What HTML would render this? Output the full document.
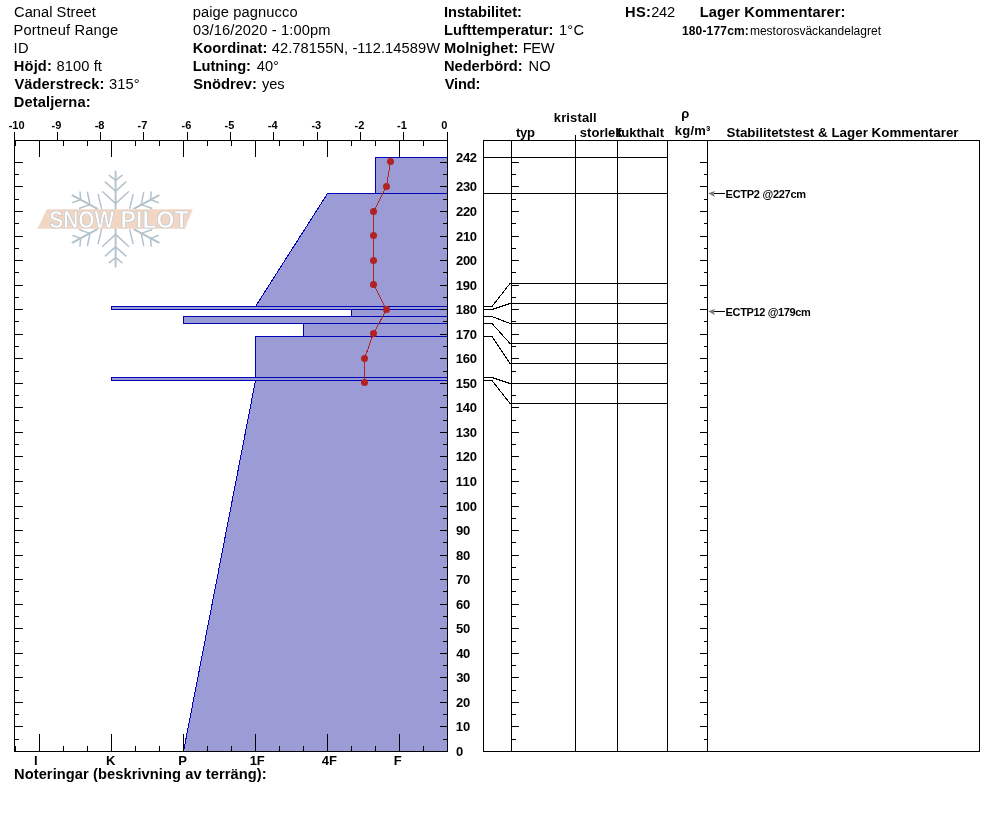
<!DOCTYPE html>
<html lang="sv"><head><meta charset="utf-8"><title>SnowPilot</title>
<style>html,body{margin:0;padding:0;background:#fff}svg{display:block}text{font-family:"Liberation Sans",Arial,sans-serif;fill:#000}.b{font-weight:bold}.l line,.l path,.l rect,.l polyline{shape-rendering:crispEdges}</style></head><body>
<svg width="994" height="840" viewBox="0 0 994 840">
<rect width="994" height="840" fill="#fff"/>
<g id="logo">
<path d="M115.6 171.4L115.6 209.0M115.6 266.6L115.6 229.0M72.5 195.4L97.0 208.6M158.7 195.4L134.2 208.6M72.5 242.6L97.0 229.4M158.7 242.6L134.2 229.4" stroke="#b3c2cc" stroke-width="1.9" fill="none" stroke-linecap="round"/>
<path d="M115.6 180.4L109.3 175.4M115.6 257.6L109.3 262.6M115.6 180.4L122.0 175.4M115.6 257.6L122.0 262.6M115.6 191.1L105.4 182.1M115.6 246.9L105.4 255.9M115.6 191.1L125.8 182.1M115.6 246.9L125.8 255.9M115.6 203.6L102.7 191.8M115.6 234.4L102.7 246.2M115.6 203.6L128.5 191.8M115.6 234.4L128.5 246.2M80.7 199.6L80.0 192.1M150.5 199.6L151.2 192.1M80.7 238.4L80.0 245.9M150.5 238.4L151.2 245.9M80.7 199.6L72.9 202.5M150.5 199.6L158.3 202.5M80.7 238.4L72.9 235.5M150.5 238.4L158.3 235.5M90.0 204.6L87.5 192.5M141.2 204.6L143.7 192.5M90.0 233.4L87.5 245.5M141.2 233.4L143.7 245.5M90.0 204.6L79.6 208.2M141.2 204.6L151.6 208.2M90.0 233.4L79.6 229.8M141.2 233.4L151.6 229.8M98.2 194.6L101.4 208.2M133.0 194.6L129.8 208.2M98.2 243.4L101.4 229.8M133.0 243.4L129.8 229.8" stroke="#b3c2cc" stroke-width="1.5" fill="none" stroke-linecap="round"/>
<polygon points="46.8,209.3 192.8,209.3 185,228.8 37.5,228.8" fill="#f1d7c3"/>
<text y="227.9" font-size="23" style="fill:#fff;stroke:#b9c4cc;stroke-width:0.6;font-weight:bold"><tspan x="49.3" textLength="65" lengthAdjust="spacingAndGlyphs">SNOW</tspan> <tspan x="120.6" textLength="68" lengthAdjust="spacingAndGlyphs">PILOT</tspan></text>
</g>
<g>
<polygon points="375.5,157.5 447.5,157.5 447.5,193.5 375.5,193.5" fill="#9b9bd5" stroke="#0000b4" stroke-width="1" shape-rendering="crispEdges"/>
<polygon points="327.5,193.5 447.5,193.5 447.5,306.5 255.5,306.5" fill="#9b9bd5" stroke="#0000b4" stroke-width="1" shape-rendering="crispEdges"/>
<polygon points="111.5,306.5 447.5,306.5 447.5,309.5 111.5,309.5" fill="#9b9bd5" stroke="#0000b4" stroke-width="1" shape-rendering="crispEdges"/>
<polygon points="351.5,309.5 447.5,309.5 447.5,316.5 351.5,316.5" fill="#9b9bd5" stroke="#0000b4" stroke-width="1" shape-rendering="crispEdges"/>
<polygon points="183.5,316.5 447.5,316.5 447.5,323.5 183.5,323.5" fill="#9b9bd5" stroke="#0000b4" stroke-width="1" shape-rendering="crispEdges"/>
<polygon points="303.5,323.5 447.5,323.5 447.5,336.5 303.5,336.5" fill="#9b9bd5" stroke="#0000b4" stroke-width="1" shape-rendering="crispEdges"/>
<polygon points="255.5,336.5 447.5,336.5 447.5,377.5 255.5,377.5" fill="#9b9bd5" stroke="#0000b4" stroke-width="1" shape-rendering="crispEdges"/>
<polygon points="111.5,377.5 447.5,377.5 447.5,380.5 111.5,380.5" fill="#9b9bd5" stroke="#0000b4" stroke-width="1" shape-rendering="crispEdges"/>
<polygon points="255.5,380.5 447.5,380.5 447.5,751.5 183.5,751.5" fill="#9b9bd5" stroke="#0000b4" stroke-width="1" shape-rendering="crispEdges"/>
</g>
<g class="l" stroke="#000" stroke-width="1" fill="none">
<line x1="14" y1="140.5" x2="448" y2="140.5"/>
<line x1="14" y1="751.5" x2="448" y2="751.5"/>
<line x1="14.5" y1="140" x2="14.5" y2="752"/>
<line x1="447.5" y1="132" x2="447.5" y2="752"/>
<line x1="14.5" y1="132" x2="14.5" y2="140"/>
<line x1="57.5" y1="132" x2="57.5" y2="140"/>
<line x1="100.5" y1="132" x2="100.5" y2="140"/>
<line x1="143.5" y1="132" x2="143.5" y2="140"/>
<line x1="187.5" y1="132" x2="187.5" y2="140"/>
<line x1="230.5" y1="132" x2="230.5" y2="140"/>
<line x1="273.5" y1="132" x2="273.5" y2="140"/>
<line x1="317.5" y1="132" x2="317.5" y2="140"/>
<line x1="360.5" y1="132" x2="360.5" y2="140"/>
<line x1="403.5" y1="132" x2="403.5" y2="140"/>
<line x1="39.5" y1="141" x2="39.5" y2="157"/>
<line x1="39.5" y1="734" x2="39.5" y2="751"/>
<line x1="63.5" y1="141" x2="63.5" y2="146"/>
<line x1="63.5" y1="746" x2="63.5" y2="751"/>
<line x1="87.5" y1="141" x2="87.5" y2="146"/>
<line x1="87.5" y1="746" x2="87.5" y2="751"/>
<line x1="111.5" y1="141" x2="111.5" y2="157"/>
<line x1="111.5" y1="734" x2="111.5" y2="751"/>
<line x1="135.5" y1="141" x2="135.5" y2="146"/>
<line x1="135.5" y1="746" x2="135.5" y2="751"/>
<line x1="159.5" y1="141" x2="159.5" y2="146"/>
<line x1="159.5" y1="746" x2="159.5" y2="751"/>
<line x1="183.5" y1="141" x2="183.5" y2="157"/>
<line x1="183.5" y1="734" x2="183.5" y2="751"/>
<line x1="207.5" y1="141" x2="207.5" y2="146"/>
<line x1="207.5" y1="746" x2="207.5" y2="751"/>
<line x1="231.5" y1="141" x2="231.5" y2="146"/>
<line x1="231.5" y1="746" x2="231.5" y2="751"/>
<line x1="255.5" y1="141" x2="255.5" y2="157"/>
<line x1="255.5" y1="734" x2="255.5" y2="751"/>
<line x1="279.5" y1="141" x2="279.5" y2="146"/>
<line x1="279.5" y1="746" x2="279.5" y2="751"/>
<line x1="303.5" y1="141" x2="303.5" y2="146"/>
<line x1="303.5" y1="746" x2="303.5" y2="751"/>
<line x1="327.5" y1="141" x2="327.5" y2="157"/>
<line x1="327.5" y1="734" x2="327.5" y2="751"/>
<line x1="351.5" y1="141" x2="351.5" y2="146"/>
<line x1="351.5" y1="746" x2="351.5" y2="751"/>
<line x1="375.5" y1="141" x2="375.5" y2="146"/>
<line x1="375.5" y1="746" x2="375.5" y2="751"/>
<line x1="399.5" y1="141" x2="399.5" y2="157"/>
<line x1="399.5" y1="734" x2="399.5" y2="751"/>
<line x1="423.5" y1="141" x2="423.5" y2="146"/>
<line x1="423.5" y1="746" x2="423.5" y2="751"/>
<line x1="15.5" y1="141" x2="15.5" y2="146"/>
<line x1="15.5" y1="746" x2="15.5" y2="751"/>
<line x1="15" y1="739.5" x2="19" y2="739.5"/>
<line x1="443" y1="739.5" x2="447" y2="739.5"/>
<line x1="15" y1="726.5" x2="23" y2="726.5"/>
<line x1="440" y1="726.5" x2="447" y2="726.5"/>
<line x1="15" y1="714.5" x2="19" y2="714.5"/>
<line x1="443" y1="714.5" x2="447" y2="714.5"/>
<line x1="15" y1="702.5" x2="23" y2="702.5"/>
<line x1="440" y1="702.5" x2="447" y2="702.5"/>
<line x1="15" y1="690.5" x2="19" y2="690.5"/>
<line x1="443" y1="690.5" x2="447" y2="690.5"/>
<line x1="15" y1="677.5" x2="23" y2="677.5"/>
<line x1="440" y1="677.5" x2="447" y2="677.5"/>
<line x1="15" y1="665.5" x2="19" y2="665.5"/>
<line x1="443" y1="665.5" x2="447" y2="665.5"/>
<line x1="15" y1="653.5" x2="23" y2="653.5"/>
<line x1="440" y1="653.5" x2="447" y2="653.5"/>
<line x1="15" y1="641.5" x2="19" y2="641.5"/>
<line x1="443" y1="641.5" x2="447" y2="641.5"/>
<line x1="15" y1="628.5" x2="23" y2="628.5"/>
<line x1="440" y1="628.5" x2="447" y2="628.5"/>
<line x1="15" y1="616.5" x2="19" y2="616.5"/>
<line x1="443" y1="616.5" x2="447" y2="616.5"/>
<line x1="15" y1="604.5" x2="23" y2="604.5"/>
<line x1="440" y1="604.5" x2="447" y2="604.5"/>
<line x1="15" y1="591.5" x2="19" y2="591.5"/>
<line x1="443" y1="591.5" x2="447" y2="591.5"/>
<line x1="15" y1="579.5" x2="23" y2="579.5"/>
<line x1="440" y1="579.5" x2="447" y2="579.5"/>
<line x1="15" y1="567.5" x2="19" y2="567.5"/>
<line x1="443" y1="567.5" x2="447" y2="567.5"/>
<line x1="15" y1="555.5" x2="23" y2="555.5"/>
<line x1="440" y1="555.5" x2="447" y2="555.5"/>
<line x1="15" y1="542.5" x2="19" y2="542.5"/>
<line x1="443" y1="542.5" x2="447" y2="542.5"/>
<line x1="15" y1="530.5" x2="23" y2="530.5"/>
<line x1="440" y1="530.5" x2="447" y2="530.5"/>
<line x1="15" y1="518.5" x2="19" y2="518.5"/>
<line x1="443" y1="518.5" x2="447" y2="518.5"/>
<line x1="15" y1="506.5" x2="23" y2="506.5"/>
<line x1="440" y1="506.5" x2="447" y2="506.5"/>
<line x1="15" y1="493.5" x2="19" y2="493.5"/>
<line x1="443" y1="493.5" x2="447" y2="493.5"/>
<line x1="15" y1="481.5" x2="23" y2="481.5"/>
<line x1="440" y1="481.5" x2="447" y2="481.5"/>
<line x1="15" y1="469.5" x2="19" y2="469.5"/>
<line x1="443" y1="469.5" x2="447" y2="469.5"/>
<line x1="15" y1="456.5" x2="23" y2="456.5"/>
<line x1="440" y1="456.5" x2="447" y2="456.5"/>
<line x1="15" y1="444.5" x2="19" y2="444.5"/>
<line x1="443" y1="444.5" x2="447" y2="444.5"/>
<line x1="15" y1="432.5" x2="23" y2="432.5"/>
<line x1="440" y1="432.5" x2="447" y2="432.5"/>
<line x1="15" y1="420.5" x2="19" y2="420.5"/>
<line x1="443" y1="420.5" x2="447" y2="420.5"/>
<line x1="15" y1="407.5" x2="23" y2="407.5"/>
<line x1="440" y1="407.5" x2="447" y2="407.5"/>
<line x1="15" y1="395.5" x2="19" y2="395.5"/>
<line x1="443" y1="395.5" x2="447" y2="395.5"/>
<line x1="15" y1="383.5" x2="23" y2="383.5"/>
<line x1="440" y1="383.5" x2="447" y2="383.5"/>
<line x1="15" y1="371.5" x2="19" y2="371.5"/>
<line x1="443" y1="371.5" x2="447" y2="371.5"/>
<line x1="15" y1="358.5" x2="23" y2="358.5"/>
<line x1="440" y1="358.5" x2="447" y2="358.5"/>
<line x1="15" y1="346.5" x2="19" y2="346.5"/>
<line x1="443" y1="346.5" x2="447" y2="346.5"/>
<line x1="15" y1="334.5" x2="23" y2="334.5"/>
<line x1="440" y1="334.5" x2="447" y2="334.5"/>
<line x1="15" y1="321.5" x2="19" y2="321.5"/>
<line x1="443" y1="321.5" x2="447" y2="321.5"/>
<line x1="15" y1="309.5" x2="23" y2="309.5"/>
<line x1="440" y1="309.5" x2="447" y2="309.5"/>
<line x1="15" y1="297.5" x2="19" y2="297.5"/>
<line x1="443" y1="297.5" x2="447" y2="297.5"/>
<line x1="15" y1="285.5" x2="23" y2="285.5"/>
<line x1="440" y1="285.5" x2="447" y2="285.5"/>
<line x1="15" y1="272.5" x2="19" y2="272.5"/>
<line x1="443" y1="272.5" x2="447" y2="272.5"/>
<line x1="15" y1="260.5" x2="23" y2="260.5"/>
<line x1="440" y1="260.5" x2="447" y2="260.5"/>
<line x1="15" y1="248.5" x2="19" y2="248.5"/>
<line x1="443" y1="248.5" x2="447" y2="248.5"/>
<line x1="15" y1="236.5" x2="23" y2="236.5"/>
<line x1="440" y1="236.5" x2="447" y2="236.5"/>
<line x1="15" y1="223.5" x2="19" y2="223.5"/>
<line x1="443" y1="223.5" x2="447" y2="223.5"/>
<line x1="15" y1="211.5" x2="23" y2="211.5"/>
<line x1="440" y1="211.5" x2="447" y2="211.5"/>
<line x1="15" y1="199.5" x2="19" y2="199.5"/>
<line x1="443" y1="199.5" x2="447" y2="199.5"/>
<line x1="15" y1="186.5" x2="23" y2="186.5"/>
<line x1="440" y1="186.5" x2="447" y2="186.5"/>
<line x1="15" y1="174.5" x2="19" y2="174.5"/>
<line x1="443" y1="174.5" x2="447" y2="174.5"/>
<line x1="15" y1="162.5" x2="23" y2="162.5"/>
<line x1="440" y1="162.5" x2="447" y2="162.5"/>
</g>
<polyline points="390.5,161.5 386.5,186.5 373.5,211.5 373.5,235.5 373.5,260.5 373.5,284.5 386.5,309.5 373.5,333.5 364.5,358.5 364.5,382.5" fill="none" stroke="#b22222" stroke-width="1" shape-rendering="crispEdges"/>
<circle cx="390.5" cy="161.5" r="3.5" fill="#b22222"/>
<circle cx="386.5" cy="186.5" r="3.5" fill="#b22222"/>
<circle cx="373.5" cy="211.5" r="3.5" fill="#b22222"/>
<circle cx="373.5" cy="235.5" r="3.5" fill="#b22222"/>
<circle cx="373.5" cy="260.5" r="3.5" fill="#b22222"/>
<circle cx="373.5" cy="284.5" r="3.5" fill="#b22222"/>
<circle cx="386.5" cy="309.5" r="3.5" fill="#b22222"/>
<circle cx="373.5" cy="333.5" r="3.5" fill="#b22222"/>
<circle cx="364.5" cy="358.5" r="3.5" fill="#b22222"/>
<circle cx="364.5" cy="382.5" r="3.5" fill="#b22222"/>
<g class="l" stroke="#000" stroke-width="1" fill="none">
<line x1="483" y1="140.5" x2="980" y2="140.5"/>
<line x1="483" y1="751.5" x2="980" y2="751.5"/>
<line x1="483.5" y1="140" x2="483.5" y2="752"/>
<line x1="979.5" y1="140" x2="979.5" y2="752"/>
<line x1="511.5" y1="140" x2="511.5" y2="751"/>
<line x1="575.5" y1="135" x2="575.5" y2="751"/>
<line x1="617.5" y1="140" x2="617.5" y2="751"/>
<line x1="667.5" y1="140" x2="667.5" y2="751"/>
<line x1="707.5" y1="140" x2="707.5" y2="751"/>
<line x1="483" y1="157.5" x2="667" y2="157.5"/>
<line x1="483" y1="193.5" x2="667" y2="193.5"/>
<line x1="511" y1="283.5" x2="667" y2="283.5"/>
<line x1="511" y1="303.5" x2="667" y2="303.5"/>
<line x1="511" y1="323.5" x2="667" y2="323.5"/>
<line x1="511" y1="343.5" x2="667" y2="343.5"/>
<line x1="511" y1="363.5" x2="667" y2="363.5"/>
<line x1="511" y1="383.5" x2="667" y2="383.5"/>
<line x1="511" y1="403.5" x2="667" y2="403.5"/>
<line x1="512" y1="739.5" x2="516" y2="739.5"/>
<line x1="704" y1="739.5" x2="707" y2="739.5"/>
<line x1="512" y1="726.5" x2="519" y2="726.5"/>
<line x1="700" y1="726.5" x2="707" y2="726.5"/>
<line x1="512" y1="714.5" x2="516" y2="714.5"/>
<line x1="704" y1="714.5" x2="707" y2="714.5"/>
<line x1="512" y1="702.5" x2="519" y2="702.5"/>
<line x1="700" y1="702.5" x2="707" y2="702.5"/>
<line x1="512" y1="690.5" x2="516" y2="690.5"/>
<line x1="704" y1="690.5" x2="707" y2="690.5"/>
<line x1="512" y1="677.5" x2="519" y2="677.5"/>
<line x1="700" y1="677.5" x2="707" y2="677.5"/>
<line x1="512" y1="665.5" x2="516" y2="665.5"/>
<line x1="704" y1="665.5" x2="707" y2="665.5"/>
<line x1="512" y1="653.5" x2="519" y2="653.5"/>
<line x1="700" y1="653.5" x2="707" y2="653.5"/>
<line x1="512" y1="641.5" x2="516" y2="641.5"/>
<line x1="704" y1="641.5" x2="707" y2="641.5"/>
<line x1="512" y1="628.5" x2="519" y2="628.5"/>
<line x1="700" y1="628.5" x2="707" y2="628.5"/>
<line x1="512" y1="616.5" x2="516" y2="616.5"/>
<line x1="704" y1="616.5" x2="707" y2="616.5"/>
<line x1="512" y1="604.5" x2="519" y2="604.5"/>
<line x1="700" y1="604.5" x2="707" y2="604.5"/>
<line x1="512" y1="591.5" x2="516" y2="591.5"/>
<line x1="704" y1="591.5" x2="707" y2="591.5"/>
<line x1="512" y1="579.5" x2="519" y2="579.5"/>
<line x1="700" y1="579.5" x2="707" y2="579.5"/>
<line x1="512" y1="567.5" x2="516" y2="567.5"/>
<line x1="704" y1="567.5" x2="707" y2="567.5"/>
<line x1="512" y1="555.5" x2="519" y2="555.5"/>
<line x1="700" y1="555.5" x2="707" y2="555.5"/>
<line x1="512" y1="542.5" x2="516" y2="542.5"/>
<line x1="704" y1="542.5" x2="707" y2="542.5"/>
<line x1="512" y1="530.5" x2="519" y2="530.5"/>
<line x1="700" y1="530.5" x2="707" y2="530.5"/>
<line x1="512" y1="518.5" x2="516" y2="518.5"/>
<line x1="704" y1="518.5" x2="707" y2="518.5"/>
<line x1="512" y1="506.5" x2="519" y2="506.5"/>
<line x1="700" y1="506.5" x2="707" y2="506.5"/>
<line x1="512" y1="493.5" x2="516" y2="493.5"/>
<line x1="704" y1="493.5" x2="707" y2="493.5"/>
<line x1="512" y1="481.5" x2="519" y2="481.5"/>
<line x1="700" y1="481.5" x2="707" y2="481.5"/>
<line x1="512" y1="469.5" x2="516" y2="469.5"/>
<line x1="704" y1="469.5" x2="707" y2="469.5"/>
<line x1="512" y1="456.5" x2="519" y2="456.5"/>
<line x1="700" y1="456.5" x2="707" y2="456.5"/>
<line x1="512" y1="444.5" x2="516" y2="444.5"/>
<line x1="704" y1="444.5" x2="707" y2="444.5"/>
<line x1="512" y1="432.5" x2="519" y2="432.5"/>
<line x1="700" y1="432.5" x2="707" y2="432.5"/>
<line x1="512" y1="420.5" x2="516" y2="420.5"/>
<line x1="704" y1="420.5" x2="707" y2="420.5"/>
<line x1="512" y1="407.5" x2="519" y2="407.5"/>
<line x1="700" y1="407.5" x2="707" y2="407.5"/>
<line x1="512" y1="395.5" x2="516" y2="395.5"/>
<line x1="704" y1="395.5" x2="707" y2="395.5"/>
<line x1="512" y1="383.5" x2="519" y2="383.5"/>
<line x1="700" y1="383.5" x2="707" y2="383.5"/>
<line x1="512" y1="371.5" x2="516" y2="371.5"/>
<line x1="704" y1="371.5" x2="707" y2="371.5"/>
<line x1="512" y1="358.5" x2="519" y2="358.5"/>
<line x1="700" y1="358.5" x2="707" y2="358.5"/>
<line x1="512" y1="346.5" x2="516" y2="346.5"/>
<line x1="704" y1="346.5" x2="707" y2="346.5"/>
<line x1="512" y1="334.5" x2="519" y2="334.5"/>
<line x1="700" y1="334.5" x2="707" y2="334.5"/>
<line x1="512" y1="321.5" x2="516" y2="321.5"/>
<line x1="704" y1="321.5" x2="707" y2="321.5"/>
<line x1="512" y1="309.5" x2="519" y2="309.5"/>
<line x1="700" y1="309.5" x2="707" y2="309.5"/>
<line x1="512" y1="297.5" x2="516" y2="297.5"/>
<line x1="704" y1="297.5" x2="707" y2="297.5"/>
<line x1="512" y1="285.5" x2="519" y2="285.5"/>
<line x1="700" y1="285.5" x2="707" y2="285.5"/>
<line x1="512" y1="272.5" x2="516" y2="272.5"/>
<line x1="704" y1="272.5" x2="707" y2="272.5"/>
<line x1="512" y1="260.5" x2="519" y2="260.5"/>
<line x1="700" y1="260.5" x2="707" y2="260.5"/>
<line x1="512" y1="248.5" x2="516" y2="248.5"/>
<line x1="704" y1="248.5" x2="707" y2="248.5"/>
<line x1="512" y1="236.5" x2="519" y2="236.5"/>
<line x1="700" y1="236.5" x2="707" y2="236.5"/>
<line x1="512" y1="223.5" x2="516" y2="223.5"/>
<line x1="704" y1="223.5" x2="707" y2="223.5"/>
<line x1="512" y1="211.5" x2="519" y2="211.5"/>
<line x1="700" y1="211.5" x2="707" y2="211.5"/>
<line x1="512" y1="199.5" x2="516" y2="199.5"/>
<line x1="704" y1="199.5" x2="707" y2="199.5"/>
<line x1="512" y1="186.5" x2="519" y2="186.5"/>
<line x1="700" y1="186.5" x2="707" y2="186.5"/>
<line x1="512" y1="174.5" x2="516" y2="174.5"/>
<line x1="704" y1="174.5" x2="707" y2="174.5"/>
<line x1="512" y1="162.5" x2="519" y2="162.5"/>
<line x1="700" y1="162.5" x2="707" y2="162.5"/>
</g>
<g stroke="#000" stroke-width="1" fill="none" shape-rendering="crispEdges">
<polyline points="483.5,306.5 492,306.5 510,283.5 511.5,283.5"/>
<polyline points="483.5,309.5 492,309.5 510,303.5 511.5,303.5"/>
<polyline points="483.5,316.5 492,316.5 510,323.5 511.5,323.5"/>
<polyline points="483.5,323.5 492,323.5 510,343.5 511.5,343.5"/>
<polyline points="483.5,336.5 492,336.5 510,363.5 511.5,363.5"/>
<polyline points="483.5,377.5 492,377.5 510,383.5 511.5,383.5"/>
<polyline points="483.5,380.5 492,380.5 510,403.5 511.5,403.5"/>
</g>
<line x1="714" y1="193.5" x2="725" y2="193.5" stroke="#000" stroke-width="1" shape-rendering="crispEdges"/>
<path d="M708.2 193.3L714.9 191.1L713.6 193.8L714.9 196.9Z" fill="#777"/>
<line x1="714" y1="311.5" x2="725" y2="311.5" stroke="#000" stroke-width="1" shape-rendering="crispEdges"/>
<path d="M708.2 311.3L714.9 309.1L713.6 311.8L714.9 314.9Z" fill="#777"/>
<g id="txt">
<text id="t0" x="14.05" y="16.8" font-size="14.67" textLength="81.77">Canal Street</text>
<text id="t1" x="13.55" y="34.8" font-size="14.67" textLength="104.67">Portneuf Range</text>
<text id="t2" x="13.45" y="52.8" font-size="14.67" textLength="15.17">ID</text>
<text id="t3" x="13.85" y="70.8" font-size="14.67" class="b" textLength="37.95">Höjd:</text>
<text id="t4" x="56.55" y="70.8" font-size="14.67" textLength="45.38">8100 ft</text>
<text id="t5" x="14.40" y="88.8" font-size="14.67" class="b" textLength="90.01">Väderstreck:</text>
<text id="t6" x="109.05" y="88.8" font-size="14.67" textLength="30.48">315°</text>
<text id="t7" x="13.85" y="106.8" font-size="14.67" class="b" textLength="76.67">Detaljerna:</text>
<text id="t8" x="192.65" y="16.8" font-size="14.67" textLength="104.95">paige pagnucco</text>
<text id="t9" x="192.90" y="34.8" font-size="14.67" textLength="137.52">03/16/2020 - 1:00pm</text>
<text id="t10" x="192.65" y="52.8" font-size="14.67" class="b" textLength="74.79">Koordinat:</text>
<text id="t11" x="271.75" y="52.8" font-size="14.67" textLength="168.27">42.78155N, -112.14589W</text>
<text id="t12" x="192.65" y="70.8" font-size="14.67" class="b" textLength="58.36">Lutning:</text>
<text id="t13" x="256.75" y="70.8" font-size="14.67" textLength="22.17">40°</text>
<text id="t14" x="193.15" y="88.8" font-size="14.67" class="b" textLength="63.78">Snödrev:</text>
<text id="t15" x="262.00" y="88.8" font-size="14.67" textLength="22.56">yes</text>
<text id="t16" x="444.00" y="16.8" font-size="14.67" class="b" textLength="77.92">Instabilitet:</text>
<text id="t17" x="444.00" y="34.8" font-size="14.67" class="b" textLength="109.36">Lufttemperatur:</text>
<text id="t18" x="559.00" y="34.8" font-size="14.67" textLength="25.01">1°C</text>
<text id="t19" x="444.00" y="52.8" font-size="14.67" class="b" textLength="74.28">Molnighet:</text>
<text id="t20" x="522.75" y="52.8" font-size="14.67" textLength="31.81">FEW</text>
<text id="t21" x="444.00" y="70.8" font-size="14.67" class="b" textLength="78.65">Nederbörd:</text>
<text id="t22" x="528.55" y="70.8" font-size="14.67" textLength="22.22">NO</text>
<text id="t23" x="444.75" y="88.8" font-size="14.67" class="b" textLength="35.62">Vind:</text>
<text id="t24" x="625.00" y="16.8" font-size="14.67" class="b" textLength="26.00">HS:</text>
<text id="t25" x="651.25" y="16.8" font-size="14.67" textLength="23.87">242</text>
<text id="t26" x="699.85" y="17.0" font-size="14.67" class="b" textLength="145.47">Lager Kommentarer:</text>
<text id="t27" x="681.90" y="34.8" font-size="12" class="b" textLength="66.94">180-177cm:</text>
<text id="t28" x="749.90" y="34.8" font-size="12" textLength="131.18">mestorosväckandelagret</text>
<text id="t29" x="14.00" y="778.8" font-size="14.67" class="b" textLength="252.68">Noteringar (beskrivning av terräng):</text>
<text id="tt10" x="8.65" y="129.4" font-size="11" class="b">-10</text>
<text id="tt9" x="51.55" y="129.4" font-size="11" class="b">-9</text>
<text id="tt8" x="94.70" y="129.4" font-size="11" class="b">-8</text>
<text id="tt7" x="137.48" y="129.4" font-size="11" class="b">-7</text>
<text id="tt6" x="181.60" y="129.4" font-size="11" class="b">-6</text>
<text id="tt5" x="224.56" y="129.4" font-size="11" class="b">-5</text>
<text id="tt4" x="267.81" y="129.4" font-size="11" class="b">-4</text>
<text id="tt3" x="311.45" y="129.4" font-size="11" class="b">-3</text>
<text id="tt2" x="354.60" y="129.4" font-size="11" class="b">-2</text>
<text id="tt1" x="397.07" y="129.4" font-size="11" class="b">-1</text>
<text id="tt0" x="441.34" y="129.4" font-size="11" class="b">0</text>
<text id="hI" x="34.12" y="764.5" font-size="13" class="b">I</text>
<text id="hK" x="106.00" y="764.5" font-size="13" class="b">K</text>
<text id="hP" x="178.22" y="764.5" font-size="13" class="b">P</text>
<text id="h1F" x="249.63" y="764.5" font-size="13" class="b">1F</text>
<text id="h4F" x="321.70" y="764.5" font-size="13" class="b">4F</text>
<text id="hF" x="393.77" y="764.5" font-size="13" class="b">F</text>
<text id="d0" x="456.00" y="755.6" font-size="13" class="b" textLength="6.96">0</text>
<text id="d10" x="455.75" y="730.6" font-size="13" class="b" textLength="14.38">10</text>
<text id="d20" x="456.00" y="706.6" font-size="13" class="b" textLength="14.23">20</text>
<text id="d30" x="456.25" y="681.6" font-size="13" class="b" textLength="14.08">30</text>
<text id="d40" x="456.25" y="657.6" font-size="13" class="b" textLength="14.08">40</text>
<text id="d50" x="456.00" y="632.6" font-size="13" class="b" textLength="14.23">50</text>
<text id="d60" x="456.00" y="608.6" font-size="13" class="b" textLength="14.23">60</text>
<text id="d70" x="456.00" y="583.6" font-size="13" class="b" textLength="14.23">70</text>
<text id="d80" x="456.00" y="559.6" font-size="13" class="b" textLength="14.23">80</text>
<text id="d90" x="456.00" y="534.6" font-size="13" class="b" textLength="14.23">90</text>
<text id="d100" x="455.75" y="510.6" font-size="13" class="b" textLength="21.25">100</text>
<text id="d110" x="455.75" y="485.6" font-size="13" class="b" textLength="21.28">110</text>
<text id="d120" x="455.75" y="460.6" font-size="13" class="b" textLength="21.25">120</text>
<text id="d130" x="455.75" y="436.6" font-size="13" class="b" textLength="21.25">130</text>
<text id="d140" x="455.75" y="411.6" font-size="13" class="b" textLength="21.25">140</text>
<text id="d150" x="455.75" y="387.6" font-size="13" class="b" textLength="21.25">150</text>
<text id="d160" x="455.75" y="362.6" font-size="13" class="b" textLength="21.25">160</text>
<text id="d170" x="455.75" y="338.6" font-size="13" class="b" textLength="21.25">170</text>
<text id="d180" x="455.75" y="313.6" font-size="13" class="b" textLength="21.25">180</text>
<text id="d190" x="455.75" y="289.6" font-size="13" class="b" textLength="21.25">190</text>
<text id="d200" x="456.00" y="264.6" font-size="13" class="b" textLength="21.00">200</text>
<text id="d210" x="456.00" y="240.6" font-size="13" class="b" textLength="21.00">210</text>
<text id="d220" x="456.00" y="215.6" font-size="13" class="b" textLength="21.00">220</text>
<text id="d230" x="456.00" y="190.6" font-size="13" class="b" textLength="21.00">230</text>
<text id="d242" x="456.00" y="161.6" font-size="13" class="b" textLength="21.00">242</text>
<text id="ctyp" x="516.00" y="136.7" font-size="13" class="b" textLength="19.05">typ</text>
<text id="ckri" x="553.80" y="121.7" font-size="13" class="b" textLength="42.92">kristall</text>
<text id="csto" x="579.85" y="136.5" font-size="13" class="b" textLength="42.69">storlek</text>
<text id="cfuk" x="616.90" y="136.5" font-size="13" class="b" textLength="47.10">fukthalt</text>
<text id="crho" x="681.16" y="117.9" font-size="13" class="b">ρ</text>
<text id="ckg" x="674.80" y="134.9" font-size="13" class="b" textLength="35.57">kg/m³</text>
<text id="cstab" x="726.50" y="137.2" font-size="13.33" class="b" textLength="232.04">Stabilitetstest &amp; Lager Kommentarer</text>
<text id="e1" x="725.60" y="197.9" font-size="11" class="b" textLength="80.45">ECTP2 @227cm</text>
<text id="e2" x="725.60" y="315.9" font-size="11" class="b" textLength="85.26">ECTP12 @179cm</text>
</g>
</svg></body></html>
